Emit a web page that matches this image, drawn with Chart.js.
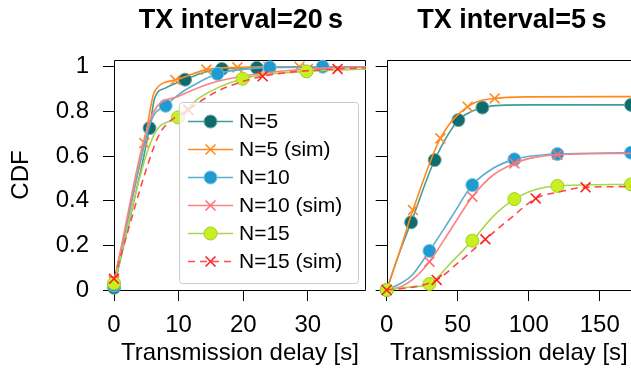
<!DOCTYPE html>
<html>
<head>
<meta charset="utf-8">
<script src="https://cdn.jsdelivr.net/npm/chart.js@4/dist/chart.umd.min.js"></script>
<style>
  body { margin: 0; background: #fff; overflow: hidden; }
  #wrap { position: relative; width: 631px; height: 369px; }
  canvas { position: absolute; top: 0; }
  #left { left: 0; }
  #right { left: 370px; }
</style>
</head>
<body>
<div id="wrap">
  <canvas id="left" width="375" height="369"></canvas>
  <canvas id="right" width="261" height="369"></canvas>
</div>
<script>
const seriesNames = ['N=5', 'N=5 (sim)', 'N=10', 'N=10 (sim)', 'N=15', 'N=15 (sim)'];

// TX interval = 20 s  (x in seconds, y = CDF)
const t20_n5_x = [0, 5.5, 6.3, 8, 11, 14, 16.7, 22.1, 30, 39];
const t20_n5_y = [0.01, 0.725, 0.86, 0.905, 0.942, 0.975, 0.99, 0.995, 0.998, 1.0];
const t20_n5_marks = [0, 1, 4, 6, 7];

const t20_n5sim_x = [0, 4.7, 6.3, 9.5, 14.3, 19.1, 23.9, 28.7, 39];
const t20_n5sim_y = [0.04, 0.658, 0.89, 0.94, 0.987, 0.997, 1.0, 1.0, 1.0];
const t20_n5sim_marks = [0, 1, 3, 4, 5, 6, 7];

const t20_n10_x = [0, 5.8, 8.0, 10, 12.5, 16.0, 20, 24.1, 32.3, 39];
const t20_n10_y = [0.02, 0.76, 0.825, 0.875, 0.92, 0.968, 0.988, 0.997, 1.0, 1.0];
const t20_n10_marks = [0, 2, 5, 7, 8];

const t20_n10sim_x = [0, 6.0, 9.9, 15.1, 21.3, 30, 39];
const t20_n10sim_y = [0.04, 0.79, 0.867, 0.927, 0.964, 0.99, 0.998];
const t20_n10sim_marks = [0, 5];

const t20_n15_x = [0, 6.1, 9.9, 13.2, 19.9, 29.8, 39];
const t20_n15_y = [0.03, 0.69, 0.773, 0.86, 0.946, 0.979, 0.99];
const t20_n15_marks = [0, 2, 4, 5];

const t20_n15sim_x = [0, 6.3, 7.5, 11.5, 16, 23.0, 34.6, 39];
const t20_n15sim_y = [0.05, 0.65, 0.72, 0.807, 0.89, 0.957, 0.99, 0.995];
const t20_n15sim_marks = [0, 3, 5, 6];

// TX interval = 5 s
const t5_n5_x = [0, 8, 17.2, 33.8, 50.5, 60, 67.4, 80, 100, 172];
const t5_n5_y = [0, 0.15, 0.303, 0.582, 0.761, 0.80, 0.817, 0.827, 0.829, 0.829];
const t5_n5_marks = [0, 2, 3, 4, 6, 9];

const t5_n5sim_x = [0, 8, 18.5, 37.8, 57, 76, 100, 172];
const t5_n5sim_y = [0, 0.15, 0.358, 0.679, 0.821, 0.858, 0.865, 0.866];
const t5_n5sim_marks = [0, 2, 3, 4, 5];

const t5_n10_x = [0, 10, 18, 30.1, 45, 60.3, 75, 89.9, 105, 120.2, 172];
const t5_n10_y = [0, 0.03, 0.067, 0.175, 0.32, 0.47, 0.545, 0.585, 0.602, 0.609, 0.615];
const t5_n10_marks = [0, 3, 5, 7, 9, 10];

const t5_n10sim_x = [0, 10, 18, 30.1, 45, 60.3, 75, 89.9, 105, 120.2, 172];
const t5_n10sim_y = [0, 0.015, 0.045, 0.127, 0.27, 0.418, 0.515, 0.567, 0.595, 0.606, 0.612];
const t5_n10sim_marks = [0, 3, 5, 7, 9];

const t5_n15_x = [0, 15, 30.1, 45, 60.3, 75, 89.9, 105, 120.2, 172];
const t5_n15_y = [0, 0.012, 0.027, 0.12, 0.221, 0.33, 0.407, 0.45, 0.466, 0.473];
const t5_n15_marks = [0, 2, 4, 6, 8, 9];

const t5_n15sim_x = [0, 20, 35.2, 50, 69.5, 87, 104.9, 122, 140, 172];
const t5_n15sim_y = [0, 0.015, 0.045, 0.12, 0.227, 0.32, 0.41, 0.44, 0.46, 0.463];
const t5_n15sim_marks = [0, 2, 4, 6, 8];

const yTicks = [0, 0.2, 0.4, 0.6, 0.8, 1];

// look of each series
const styles = [
  { line: '#409c9c', mark: '#0f6c6c', edge: '#6aa9a9', shape: 'circle' },
  { line: '#ff8a1f', mark: '#ff8a1f', shape: 'crossRot' },
  { line: '#5aaed2', mark: '#1e9bd0', edge: '#7cc0de', shape: 'circle' },
  { line: '#ff8080', mark: '#ff6f6f', shape: 'crossRot' },
  { line: '#a8d84a', mark: '#c8f020', edge: '#9fcf2a', shape: 'circle' },
  { line: '#ff4848', mark: '#ff1f1f', shape: 'crossRot', dash: [7, 5] }
];

const FONT = "'Liberation Sans', Arial, sans-serif";
Chart.defaults.font.family = FONT;
Chart.defaults.color = '#000';

function makeDatasets(xs, ys, marks) {
  return seriesNames.map((name, i) => {
    const st = styles[i];
    const circle = st.shape === 'circle';
    return {
      label: name,
      data: xs[i].map((x, k) => ({ x: x, y: ys[i][k] })),
      borderColor: st.line,
      borderWidth: 1.6,
      borderDash: st.dash || [],
      cubicInterpolationMode: 'monotone',
      pointStyle: st.shape,
      pointRadius: c => marks[i].includes(c.dataIndex) ? (circle ? 6.5 : 7) : 0,
      pointHoverRadius: 0,
      pointBackgroundColor: st.mark,
      pointBorderColor: circle ? st.edge : st.mark,
      pointBorderWidth: circle ? 1 : 1.6,
      fill: false,
      clip: false,
      order: 6 - i
    };
  });
}

// box around the plot area
const framePlugin = {
  id: 'frame',
  beforeDatasetsDraw(chart, args, opts) {
    const a = chart.chartArea;
    const ctx = chart.ctx;
    const l = Math.round(a.left) + 0.5, r = Math.round(a.right) - 0.5;
    const t = Math.round(a.top) + 0.5, b = Math.round(a.bottom) + 0.5;
    ctx.save();
    ctx.strokeStyle = '#000';
    ctx.lineWidth = 1;
    ctx.beginPath();
    if (opts.open) {
      ctx.moveTo(r + 5, t); ctx.lineTo(l, t); ctx.lineTo(l, b); ctx.lineTo(r + 5, b);
    } else {
      ctx.rect(l, t, r - l, b - t);
    }
    ctx.stroke();
    ctx.restore();
  }
};

const titlePlugin = {
  id: 'panelTitle',
  afterDraw(chart, args, opts) {
    const a = chart.chartArea;
    const ctx = chart.ctx;
    ctx.save();
    ctx.font = 'bold 27px ' + FONT;
    ctx.fillStyle = '#000';
    ctx.textAlign = 'center';
    ctx.textBaseline = 'alphabetic';
    ctx.fillText(opts.text, (a.left + a.right) / 2 + (opts.dx || 0), 28);
    ctx.restore();
  }
};

// legend box drawn inside the left panel
const legendPlugin = {
  id: 'boxLegend',
  afterDatasetsDraw(chart) {
    const ctx = chart.ctx;
    ctx.save();
    ctx.beginPath();
    ctx.roundRect(179.5, 102.5, 179, 181, 3);
    ctx.fillStyle = 'rgba(255,255,255,0.8)';
    ctx.fill();
    ctx.strokeStyle = '#cccccc';
    ctx.lineWidth = 1;
    ctx.stroke();
    chart.data.datasets.forEach((ds, i) => {
      const st = styles[i];
      const y = 121.5 + i * 28;
      ctx.beginPath();
      ctx.setLineDash(ds.borderDash);
      ctx.strokeStyle = ds.borderColor;
      ctx.lineWidth = 1.6;
      ctx.moveTo(188, y); ctx.lineTo(233, y);
      ctx.stroke();
      ctx.setLineDash([]);
      const cx = 210.5;
      if (st.shape === 'circle') {
        ctx.beginPath();
        ctx.arc(cx, y, 6.5, 0, Math.PI * 2);
        ctx.fillStyle = st.mark;
        ctx.fill();
        ctx.strokeStyle = st.edge;
        ctx.lineWidth = 1;
        ctx.stroke();
      } else {
        const d = 4.95;
        ctx.beginPath();
        ctx.moveTo(cx - d, y - d); ctx.lineTo(cx + d, y + d);
        ctx.moveTo(cx - d, y + d); ctx.lineTo(cx + d, y - d);
        ctx.strokeStyle = st.mark;
        ctx.lineWidth = 1.6;
        ctx.stroke();
      }
      ctx.font = '21px ' + FONT;
      ctx.fillStyle = '#000';
      ctx.textAlign = 'left';
      ctx.textBaseline = 'middle';
      ctx.fillText(ds.label, 239, y + 1);
    });
    ctx.restore();
  }
};

function xScale(max, step) {
  return {
    type: 'linear', min: 0, max: max,
    ticks: { stepSize: step, includeBounds: false, autoSkip: false, maxRotation: 0, font: { size: 24 }, padding: 10 },
    grid: { drawOnChartArea: false, tickLength: 11, color: '#000' },
    border: { display: false },
    title: { display: true, text: 'Transmission delay [s]', font: { size: 24 }, padding: { top: 0, bottom: 1 } },
    afterFit: s => { s.height = 79; }
  };
}

function yScale(showLabels) {
  return {
    type: 'linear', min: 0, max: 1.03,
    afterBuildTicks: s => { s.ticks = yTicks.map(v => ({ value: v })); },
    ticks: {
      font: { size: 24 }, padding: 14,
      callback: v => showLabels ? String(Math.round(v * 10) / 10) : ''
    },
    grid: { drawOnChartArea: false, tickLength: 11, color: '#000' },
    border: { display: false },
    title: { display: showLabels, text: 'CDF', font: { size: 24 }, padding: { top: 7, bottom: 0 } },
    afterFit: s => { s.width = showLabels ? 114 : 14; }
  };
}

new Chart(document.getElementById('left'), {
  type: 'line',
  data: {
    datasets: makeDatasets(
      [t20_n5_x, t20_n5sim_x, t20_n10_x, t20_n10sim_x, t20_n15_x, t20_n15sim_x],
      [t20_n5_y, t20_n5sim_y, t20_n10_y, t20_n10sim_y, t20_n15_y, t20_n15sim_y],
      [t20_n5_marks, t20_n5sim_marks, t20_n10_marks, t20_n10sim_marks, t20_n15_marks, t20_n15sim_marks]
    )
  },
  options: {
    responsive: false,
    animation: false,
    devicePixelRatio: 1,
    layout: { autoPadding: false, padding: { left: 0, right: 9, top: 60, bottom: 0 } },
    scales: { x: xScale(39, 10), y: yScale(true) },
    plugins: {
      legend: { display: false },
      tooltip: { enabled: false },
      panelTitle: { text: 'TX interval=20\u2009s', dx: 1 },
      frame: { open: false }
    }
  },
  plugins: [framePlugin, titlePlugin, legendPlugin]
});

new Chart(document.getElementById('right'), {
  type: 'line',
  data: {
    datasets: makeDatasets(
      [t5_n5_x, t5_n5sim_x, t5_n10_x, t5_n10sim_x, t5_n15_x, t5_n15sim_x],
      [t5_n5_y, t5_n5sim_y, t5_n10_y, t5_n10sim_y, t5_n15_y, t5_n15sim_y],
      [t5_n5_marks, t5_n5sim_marks, t5_n10_marks, t5_n10sim_marks, t5_n15_marks, t5_n15sim_marks]
    )
  },
  options: {
    responsive: false,
    animation: false,
    devicePixelRatio: 1,
    layout: { autoPadding: false, padding: { left: 0, right: 0, top: 60, bottom: 0 } },
    scales: { x: xScale(172, 50), y: yScale(false) },
    plugins: {
      legend: { display: false },
      tooltip: { enabled: false },
      panelTitle: { text: 'TX interval=5\u2009s', dx: 3 },
      frame: { open: true }
    }
  },
  plugins: [framePlugin, titlePlugin]
});
</script>
</body>
</html>
